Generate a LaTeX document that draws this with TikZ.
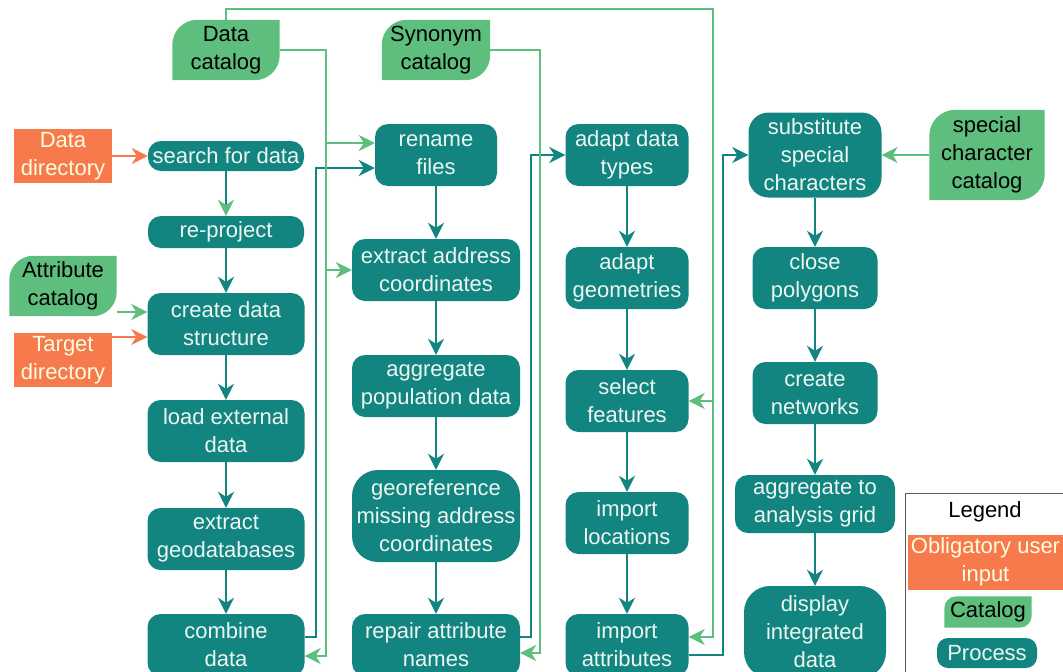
\documentclass[tikz,border=0pt]{standalone}
\usepackage{fontspec}
\setmainfont{Liberation Sans}
\usetikzlibrary{arrows.meta,calc,backgrounds}
\definecolor{procteal}{RGB}{19,133,128}
\definecolor{catgreen}{RGB}{94,190,126}
\definecolor{inorange}{RGB}{246,122,76}
\definecolor{proctext}{RGB}{236,246,242}
\begin{document}
\begin{tikzpicture}[x=1pt,y=-1pt,
    font=\fontsize{22}{28}\selectfont,
    proc/.style 2 args={fill=procteal,text=proctext,rounded corners=13pt,align=center,
      inner sep=2pt,minimum width=#1pt,minimum height=#2pt},
    cat/.style 2 args={text=black,align=center,inner sep=2pt,minimum width=#1pt,minimum height=#2pt},
    usrin/.style 2 args={fill=inorange,text=white!88!yellow,align=center,inner sep=2pt,
      minimum width=#1pt,minimum height=#2pt},
    flow/.style={draw=procteal,line width=2pt,-{Stealth[length=16pt,width=16pt,inset=5pt]}},
    catarrow/.style={draw=catgreen,line width=1.6pt,-{Stealth[length=16pt,width=16pt,inset=5pt]}},
    inarrow/.style={draw=inorange,line width=2pt,-{Stealth[length=16pt,width=16pt,inset=5pt]}}]
  \useasboundingbox (0,0) rectangle (1063,672);
  \clip (0,0) rectangle (1063,672);
  % inputs and catalogs
  \node[usrin={98}{54}] (datadir) at (63,156) {Data\\directory};
  \node[usrin={98}{54}] (targetdir) at (63,360) {Target\\directory};
  \node[cat={107}{60}] (datacat) at (226,50) {Data\\catalog};
  \node[cat={108}{60}] (syncat) at (436,50) {Synonym\\catalog};
  \node[cat={107}{60}] (attrcat) at (63,286) {Attribute\\catalog};
  \node[cat={115}{90}] (spcat) at (987,155) {special\\character\\catalog};
  % processes
  \node[proc={156}{30}] (search) at (226,156) {search for data};
  \node[proc={156}{32}] (reproj) at (226,232) {re-project};
  \node[proc={157}{62}] (create) at (226,324) {create data\\structure};
  \node[proc={157}{62}] (load) at (226,431) {load external\\data};
  \node[proc={157}{62}] (extract) at (226,539) {extract\\geodatabases};
  \node[proc={157}{62}] (combine) at (226,645) {combine\\data};
  \node[proc={122}{62}] (rename) at (436,155) {rename\\files};
  \node[proc={168}{62}] (addr) at (436,270) {extract address\\coordinates};
  \node[proc={168}{62}] (aggpop) at (436,386) {aggregate\\population data};
  \node[proc={168}{92},rounded corners=26pt] (georef) at (436,516) {georeference\\missing address\\coordinates};
  \node[proc={168}{62}] (repair) at (436,645) {repair attribute\\names};
  \node[proc={123}{62}] (types) at (627,155) {adapt data\\types};
  \node[proc={123}{62}] (geom) at (627,278) {adapt\\geometries};
  \node[proc={123}{62}] (select) at (627,401) {select\\features};
  \node[proc={123}{62}] (imploc) at (627,523) {import\\locations};
  \node[proc={123}{62}] (impattr) at (627,645) {import\\attributes};
  \node[proc={133}{85},rounded corners=20pt] (subst) at (815,155) {substitute\\special\\characters};
  \node[proc={125}{62}] (close) at (815,278) {close\\polygons};
  \node[proc={125}{62}] (networks) at (815,393) {create\\networks};
  \node[proc={160}{58}] (agggrid) at (815,504) {aggregate to\\analysis grid};
  \node[proc={142}{92},rounded corners=26pt] (display) at (815,632) {display\\integrated\\data};
  % legend
  \draw[black!65,line width=1pt] (905,493) rectangle (1070,690);
  \node[text=black] (legtitle) at (985,512) {Legend};
  \node[usrin={156}{55}] (legin) at (985.5,562) {Obligatory user\\input};
  \node[cat={87}{31}] (legcat) at (988,612) {Catalog};
  \node[proc={100}{30},rounded corners=11pt] (legproc) at (987,653) {Process};
  \begin{scope}[on background layer]
    \foreach \c/\rr in {datacat/25,syncat/25,attrcat/24,spcat/26,legcat/12}
      \fill[catgreen] (\c.south west) -- ([yshift=-\rr pt]\c.north west)
        arc[start angle=180,end angle=90,radius=\rr pt] -- (\c.north east)
        -- ([yshift=\rr pt]\c.south east) arc[start angle=0,end angle=-90,radius=\rr pt] -- cycle;
  \end{scope}
  % process chain
  \foreach \a/\b in {reproj/create,create/load,load/extract,extract/combine,
      rename/addr,addr/aggpop,aggpop/georef,georef/repair,
      types/geom,geom/select,select/imploc,imploc/impattr,
      subst/close,close/networks,networks/agggrid,agggrid/display}
    \draw[flow] (\a.south) -- (\b.north);
  \draw[flow,-{Stealth[length=16pt,width=16pt,inset=5pt,color=catgreen]}] (search.south) -- (reproj.north);
  \draw[flow] ($(combine.east)+(0,-8)$) -- ++(11,0) |- ($(rename.west)+(0,13)$);
  \draw[flow] ($(repair.east)+(0,-8)$) -- ++(11,0) |- (types.west);
  \draw[flow] ($(impattr.east)+(0,10)$) -- ++(34,0) |- (subst.west);
  % catalog lines
  \coordinate (busA) at (326,656);
  \coordinate (busB) at (540,653);
  \coordinate (busC) at (713,637);
  \coordinate (topC) at (713,9);
  \draw[catarrow] (datacat.east) -| (busA) -- (combine.east |- busA);
  \draw[catarrow] ($(busA |- rename.west)+(0,-12)$) -- ($(rename.west)+(0,-12)$);
  \draw[catarrow] (busA |- addr.west) -- (addr.west);
  \draw[catarrow] (syncat.east) -| (busB) -- (repair.east |- busB);
  \draw[catarrow] (datacat.north) |- (topC) -- (busC) -- (impattr.east |- busC);
  \draw[catarrow] (busC |- select.east) -- (select.east);
  \draw[catarrow] ($(attrcat.east)+(0,26)$) -- ($(create.west)+(0,-12)$);
  \draw[catarrow] (spcat.west) -- (subst.east);
  \draw[inarrow] (datadir.east) -- (search.west);
  \draw[inarrow] ($(targetdir.east)+(0,-23)$) -- ($(create.west)+(0,13)$);
\end{tikzpicture}
\end{document}
